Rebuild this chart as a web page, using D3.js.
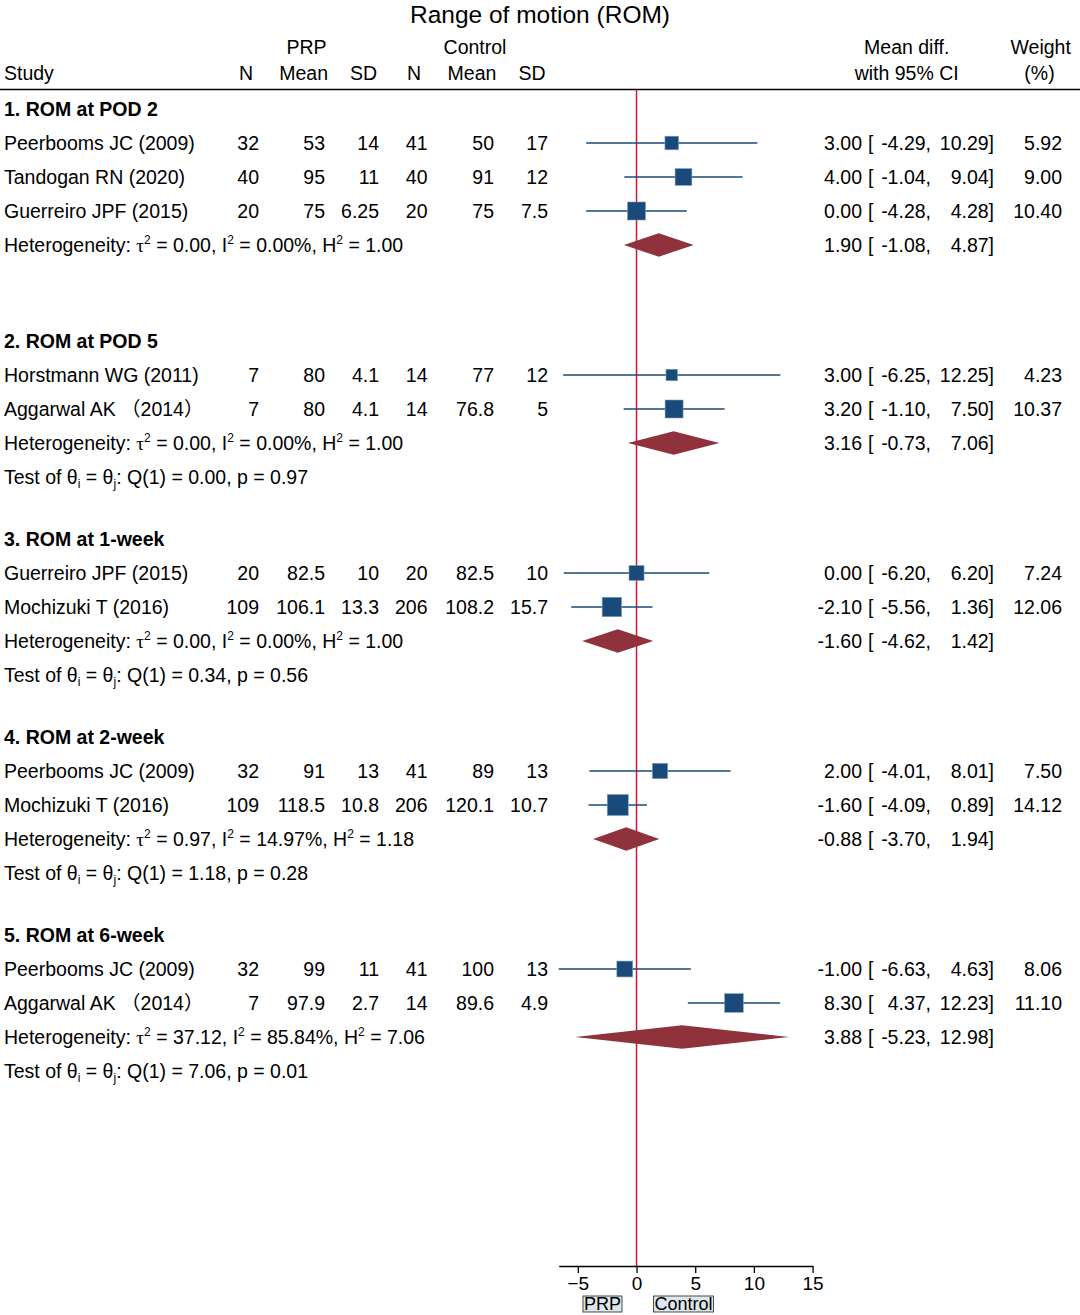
<!DOCTYPE html>
<html>
<head>
<meta charset="utf-8">
<script src="https://cdn.jsdelivr.net/npm/d3@7"></script>
<style>
  body { margin: 0; background: #fff; }
  svg text { font-family: "Liberation Sans", Arial, "Noto Sans CJK SC", sans-serif; fill: #000; }
</style>
</head>
<body>
<div id="root"></div>
<script>
// ---- data ----
const groupTitles = ["1. ROM at POD 2", "2. ROM at POD 5", "3. ROM at 1-week", "4. ROM at 2-week", "5. ROM at 6-week"]

const studyNames = [
  "Peerbooms JC (2009)", "Tandogan RN (2020)", "Guerreiro JPF (2015)",
  "Horstmann WG (2011)", "Aggarwal AK （2014）",
  "Guerreiro JPF (2015)", "Mochizuki T (2016)",
  "Peerbooms JC (2009)", "Mochizuki T (2016)",
  "Peerbooms JC (2009)", "Aggarwal AK （2014）"
]
const studyGroup = [0, 0, 0, 1, 1, 2, 2, 3, 3, 4, 4]
const prpN = [32, 40, 20, 7, 7, 20, 109, 32, 109, 32, 7]
const prpMean = [53, 95, 75, 80, 80, 82.5, 106.1, 91, 118.5, 99, 97.9]
const prpSD = [14, 11, 6.25, 4.1, 4.1, 10, 13.3, 13, 10.8, 11, 2.7]
const ctlN = [41, 40, 20, 14, 14, 20, 206, 41, 206, 41, 14]
const ctlMean = [50, 91, 75, 77, 76.8, 82.5, 108.2, 89, 120.1, 100, 89.6]
const ctlSD = [17, 12, 7.5, 12, 5, 10, 15.7, 13, 10.7, 13, 4.9]
const effect = [3.00, 4.00, 0.00, 3.00, 3.20, 0.00, -2.10, 2.00, -1.60, -1.00, 8.30]
const lower = [-4.29, -1.04, -4.28, -6.25, -1.10, -6.20, -5.56, -4.01, -4.09, -6.63, 4.37]
const upper = [10.29, 9.04, 4.28, 12.25, 7.50, 6.20, 1.36, 8.01, 0.89, 4.63, 12.23]
const weight = [5.92, 9.00, 10.40, 4.23, 10.37, 7.24, 12.06, 7.50, 14.12, 8.06, 11.10]

const pooledEffect = [1.90, 3.16, -1.60, -0.88, 3.88]
const pooledLower = [-1.08, -0.73, -4.62, -3.70, -5.23]
const pooledUpper = [4.87, 7.06, 1.42, 1.94, 12.98]
const hetTau2 = ["0.00", "0.00", "0.00", "0.97", "37.12"]
const hetI2 = ["0.00", "0.00", "0.00", "14.97", "85.84"]
const hetH2 = ["1.00", "1.00", "1.00", "1.18", "7.06"]
const testQ = [null, "0.00", "0.34", "1.18", "7.06"]
const testP = [null, "0.97", "0.56", "0.28", "0.01"]

const xTicks = [-5, 0, 5, 10, 15]
const favourLabels = ["PRP", "Control"]
const favourAt = [-2.9, 4]

// ---- layout ----
const W = 1080, H = 1315
const FS = 19.5
const rowStep = 34, groupGap = 28, firstRow = 109
const headerLineY = 89.5, axisY = 1266
const col = { study: 4, pN: 259, pMean: 325, pSD: 379, cN: 427.5, cMean: 494, cSD: 548,
  est: 862, brk: 868, lo: 931, hi: 994, wt: 1062 }
const navy = "#1a4a7a", cranberry = "#8f323c", refRed = "#c8163c"

const svg = d3.select("#root").append("svg")
  .attr("width", W).attr("height", H)

const x = d3.scaleLinear().domain([-6.63, 15]).range([558.7, 812.6])
const side = d3.scaleSqrt().domain([0, d3.max(weight)]).range([0, 21])

// rows: compute y for every line
const rows = []
let y = firstRow
groupTitles.forEach((g, gi) => {
  rows.push({ type: "title", g: gi, y }); y += rowStep
  studyNames.forEach((s, i) => {
    if (studyGroup[i] === gi) { rows.push({ type: "study", i, y }); y += rowStep }
  })
  rows.push({ type: "pooled", g: gi, y }); y += rowStep
  rows.push({ type: "test", g: gi, y }); y += rowStep + groupGap
})

// title
svg.append("text").attr("x", 540).attr("y", 23).attr("text-anchor", "middle")
  .style("font-size", "24.5px").text("Range of motion (ROM)")

// header
const hdr = svg.append("g").style("font-size", `${FS}px`)
const hText = (t, xx, yy, anchor) => hdr.append("text").attr("x", xx).attr("y", yy + 7)
  .attr("text-anchor", anchor).text(t)
hText("PRP", 306.6, 47, "middle")
hText("Control", 475, 47, "middle")
hText("Mean diff.", 906.7, 47, "middle")
hText("Weight", 1040.7, 47, "middle")
hText("Study", col.study, 73, "start")
hText("N", 253, 73, "end")
hText("Mean", 328, 73, "end")
hText("SD", 377, 73, "end")
hText("N", 421, 73, "end")
hText("Mean", 496.4, 73, "end")
hText("SD", 545.5, 73, "end")
hText("with 95% CI", 906.7, 73, "middle")
hText("(%)", 1039.5, 73, "middle")

svg.append("line").attr("x1", 0).attr("x2", W).attr("y1", headerLineY).attr("y2", headerLineY)
  .attr("stroke", "#000").attr("stroke-width", 1.5)

// no-effect line
svg.append("line").attr("x1", x(0)).attr("x2", x(0)).attr("y1", headerLineY).attr("y2", axisY)
  .attr("stroke", refRed).attr("stroke-width", 1.5)

const body = svg.append("g").style("font-size", `${FS}px`)
const txt = (t, xx, yy, anchor = "end") => body.append("text").attr("x", xx).attr("y", yy + 7)
  .attr("text-anchor", anchor).text(t)

const ciText = (e, l, u, yy) => {
  txt(e.toFixed(2), col.est, yy)
  txt("[", col.brk, yy, "start")
  txt(l.toFixed(2) + ",", col.lo, yy)
  txt(u.toFixed(2) + "]", col.hi, yy)
}

rows.forEach(r => {
  if (r.type === "title") {
    txt(groupTitles[r.g], col.study, r.y, "start").style("font-weight", "bold")
  } else if (r.type === "study") {
    const i = r.i
    txt(studyNames[i], col.study, r.y, "start")
    txt(String(prpN[i]), col.pN, r.y)
    txt(String(prpMean[i]), col.pMean, r.y)
    txt(String(prpSD[i]), col.pSD, r.y)
    txt(String(ctlN[i]), col.cN, r.y)
    txt(String(ctlMean[i]), col.cMean, r.y)
    txt(String(ctlSD[i]), col.cSD, r.y)
    ciText(effect[i], lower[i], upper[i], r.y)
    txt(weight[i].toFixed(2), col.wt, r.y)
  } else if (r.type === "pooled") {
    const g = r.g
    const t = txt("", col.study, r.y, "start")
    t.append("tspan").text("Heterogeneity: ")
    t.append("tspan").style("font-family", "'Liberation Serif', serif").text("τ")
    t.append("tspan").attr("dy", -8).style("font-size", "12px").text("2")
    t.append("tspan").attr("dy", 8).text(` = ${hetTau2[g]}, I`)
    t.append("tspan").attr("dy", -8).style("font-size", "12px").text("2")
    t.append("tspan").attr("dy", 8).text(` = ${hetI2[g]}%, H`)
    t.append("tspan").attr("dy", -8).style("font-size", "12px").text("2")
    t.append("tspan").attr("dy", 8).text(` = ${hetH2[g]}`)
    ciText(pooledEffect[g], pooledLower[g], pooledUpper[g], r.y)
  } else if (r.type === "test" && testQ[r.g] !== null) {
    const g = r.g
    const t = txt("", col.study, r.y, "start")
    t.append("tspan").text("Test of θ")
    t.append("tspan").attr("dy", 4).style("font-size", "12px").text("i")
    t.append("tspan").attr("dy", -4).text(" = θ")
    t.append("tspan").attr("dy", 4).style("font-size", "12px").text("j")
    t.append("tspan").attr("dy", -4).text(`: Q(1) = ${testQ[g]}, p = ${testP[g]}`)
  }
})

// study CIs and squares
const studyRows = rows.filter(r => r.type === "study")
const marks = svg.append("g")
marks.selectAll("line.ci").data(studyRows).join("line").attr("class", "ci")
  .attr("x1", r => x(lower[r.i])).attr("x2", r => x(upper[r.i]))
  .attr("y1", r => r.y).attr("y2", r => r.y)
  .attr("stroke", navy).attr("stroke-width", 1.6)
marks.selectAll("rect.sq").data(studyRows).join("rect").attr("class", "sq")
  .attr("x", r => x(effect[r.i]) - side(weight[r.i]) / 2)
  .attr("y", r => r.y - side(weight[r.i]) / 2)
  .attr("width", r => side(weight[r.i])).attr("height", r => side(weight[r.i]))
  .attr("fill", navy).attr("stroke", "#7f9fbf").attr("stroke-width", 0.6)

// pooled diamonds
const pooledRows = rows.filter(r => r.type === "pooled")
marks.selectAll("path.dia").data(pooledRows).join("path").attr("class", "dia")
  .attr("d", r => {
    const h = 11.7
    return `M${x(pooledLower[r.g])},${r.y} L${x(pooledEffect[r.g])},${r.y - h} ` +
      `L${x(pooledUpper[r.g])},${r.y} L${x(pooledEffect[r.g])},${r.y + h} Z`
  })
  .attr("fill", cranberry)

// axis
const axis = svg.append("g").attr("transform", `translate(0,${axisY})`)
  .call(d3.axisBottom(x).tickValues(xTicks).tickSize(7).tickSizeOuter(0).tickPadding(4))
axis.select(".domain").attr("stroke", "#000").attr("stroke-width", 1.3)
axis.selectAll(".tick line").attr("stroke", "#000").attr("stroke-width", 1.3)
axis.selectAll(".tick text").style("font-size", "19px")
  .style("font-family", "'Liberation Sans', Arial, sans-serif").attr("fill", "#000")

// favour labels
const fav = svg.append("g")
favourLabels.forEach((lab, k) => {
  const t = fav.append("text").attr("x", x(favourAt[k])).attr("y", 1310)
    .attr("text-anchor", "middle").style("font-size", "18px").text(lab)
  const bb = t.node().getBBox()
  fav.insert("rect", "text").attr("x", bb.x - 1).attr("y", 1296)
    .attr("width", bb.width + 2).attr("height", 16)
    .attr("fill", "#dde7eb").attr("stroke", "#222").attr("stroke-width", 0.8)
})
</script>
</body>
</html>
